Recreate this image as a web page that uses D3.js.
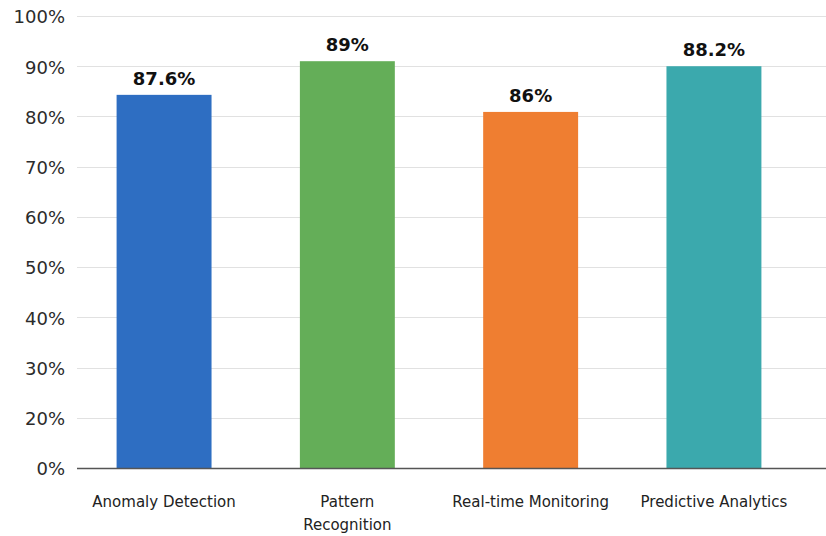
<!DOCTYPE html>
<html>
<head>
<meta charset="utf-8">
<script src="https://cdn.jsdelivr.net/npm/d3@7"></script>
<style>
  html, body { margin: 0; padding: 0; background: #ffffff; }
  svg { display: block; }
</style>
</head>
<body>
<script>
// ---- data ----
const categories = ["Anomaly Detection", "Pattern Recognition", "Real-time Monitoring", "Predictive Analytics"];
const categoryLines = [["Anomaly Detection"], ["Pattern", "Recognition"], ["Real-time Monitoring"], ["Predictive Analytics"]];
const barValues = [84.3, 91.0, 80.9, 90.0];          // bar heights as drawn on the axis
const valueLabels = ["87.6%", "89%", "86%", "88.2%"]; // labels printed above the bars
const tickValues = [10, 20, 30, 40, 50, 60, 70, 80, 90, 100];
const tickLabels = ["0%", "20%", "30%", "40%", "50%", "60%", "70%", "80%", "90%", "100%"];
const barColors = ["#2e6ec2", "#64ae58", "#ef7e31", "#3ba9ad"];

// ---- layout ----
const W = 826, H = 536;
const gridLeft = 77, gridRight = 826;
const yTop = 16, yBottom = 468;
const font = "'DejaVu Sans', 'Noto Sans', sans-serif";

const svg = d3.select("body").append("svg")
  .attr("width", W).attr("height", H)
  .style("background", "#fff");

const y = d3.scaleLinear().domain([10, 100]).range([yBottom, yTop]);
const x = d3.scaleBand().domain(categories).range([77, 801])
  .paddingInner(0.482).paddingOuter(0.216);

// gridlines
svg.append("g").selectAll("line")
  .data(tickValues.filter(v => v !== 10))
  .join("line")
  .attr("x1", gridLeft).attr("x2", gridRight)
  .attr("y1", d => Math.round(y(d)) + 0.5).attr("y2", d => Math.round(y(d)) + 0.5)
  .attr("stroke", "#e1e1e1").attr("stroke-width", 1);

// y axis labels
const yAxis = d3.axisLeft(y).tickValues(tickValues)
  .tickFormat((d, i) => tickLabels[i]).tickSize(0).tickPadding(0);
const yg = svg.append("g").attr("transform", `translate(65,0)`).call(yAxis);
yg.select(".domain").remove();
yg.selectAll("text")
  .attr("font-family", font).attr("font-size", 18).attr("fill", "#2b2b2b")
  .attr("dy", "0.38em");

// bars
svg.append("g").selectAll("rect")
  .data(categories)
  .join("rect")
  .attr("x", d => x(d))
  .attr("width", x.bandwidth())
  .attr("y", (d, i) => y(barValues[i]))
  .attr("height", (d, i) => y(10) - y(barValues[i]))
  .attr("fill", (d, i) => barColors[i]);

// baseline axis
const xAxis = d3.axisBottom(x).tickSize(0).tickFormat("");
const xg = svg.append("g").attr("transform", `translate(0,${yBottom})`).call(xAxis);
xg.select(".domain").remove();
svg.append("line")
  .attr("x1", gridLeft).attr("x2", gridRight)
  .attr("y1", yBottom + 0.5).attr("y2", yBottom + 0.5)
  .attr("stroke", "#555").attr("stroke-width", 1.3);

// value labels
svg.append("g").selectAll("text")
  .data(categories)
  .join("text")
  .attr("x", d => x(d) + x.bandwidth() / 2)
  .attr("y", (d, i) => y(barValues[i]) - 10)
  .attr("text-anchor", "middle")
  .attr("font-family", font).attr("font-size", 18).attr("font-weight", "bold")
  .attr("fill", "#111")
  .text((d, i) => valueLabels[i]);

// category labels
const cg = svg.append("g").selectAll("text")
  .data(categories)
  .join("text")
  .attr("x", d => x(d) + x.bandwidth() / 2)
  .attr("y", 507)
  .attr("text-anchor", "middle")
  .attr("font-family", font).attr("font-size", 15).attr("fill", "#222");
cg.each(function(d, i) {
  const t = d3.select(this);
  categoryLines[i].forEach((line, j) => {
    t.append("tspan")
      .attr("x", x(d) + x.bandwidth() / 2)
      .attr("dy", j === 0 ? 0 : 23)
      .text(line);
  });
});
</script>
</body>
</html>
